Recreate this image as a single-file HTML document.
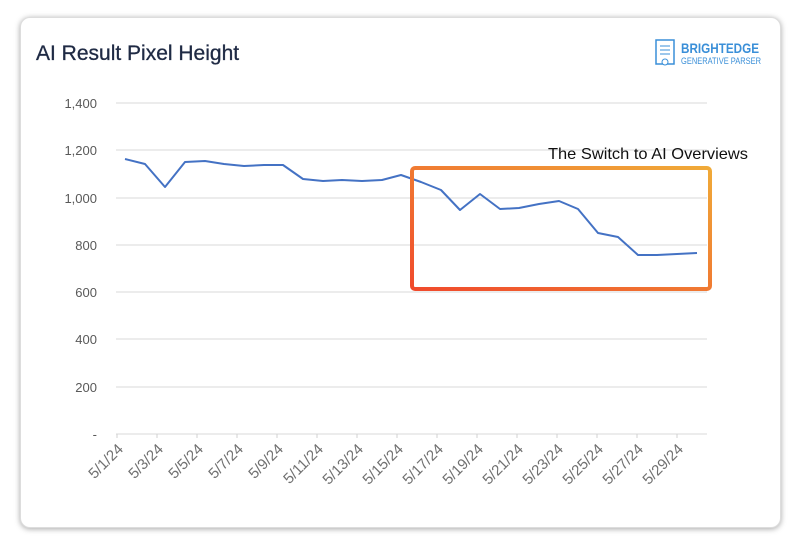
<!DOCTYPE html>
<html><head><style>
body{margin:0;background:#fff;width:800px;height:549px;overflow:hidden;font-family:"Liberation Sans",sans-serif}
.card{position:absolute;left:20px;top:17px;width:759px;height:509px;border-radius:10px;background:#fff;box-shadow:0 1px 6px rgba(0,0,0,.35);border:1px solid #ddd}
</style></head><body>
<div class="card"></div>
<svg width="800" height="549" style="position:absolute;left:0;top:0">
<defs><linearGradient id="g" x1="0" y1="1" x2="1" y2="0"><stop offset="0" stop-color="#f04a2c"/><stop offset="1" stop-color="#f0aa38"/></linearGradient></defs>
<text x="36" y="60" font-size="21" fill="#1f2a44" stroke="#1f2a44" stroke-width="0.3" font-family="Liberation Sans">AI Result Pixel Height</text>
<g>
<rect x="656" y="40" width="18" height="24" fill="none" stroke="#3a8fd8" stroke-width="1.5"/>
<line x1="660" y1="46" x2="670" y2="46" stroke="#3a8fd8"/><line x1="660" y1="50" x2="670" y2="50" stroke="#3a8fd8"/><line x1="660" y1="54" x2="670" y2="54" stroke="#3a8fd8"/>
<circle cx="665" cy="62" r="3" fill="#fff" stroke="#3a8fd8"/>
<text x="681" y="53" font-size="14" font-weight="bold" fill="#3a8fd8" textLength="78" lengthAdjust="spacingAndGlyphs">BRIGHTEDGE</text>
<text x="681" y="64" font-size="9" fill="#3a8fd8" textLength="80" lengthAdjust="spacingAndGlyphs">GENERATIVE PARSER</text>
</g>
<g stroke="#d9d9d9" stroke-width="1">
<line x1="116" y1="103" x2="707" y2="103"/><line x1="116" y1="150" x2="707" y2="150"/><line x1="116" y1="198" x2="707" y2="198"/><line x1="116" y1="245" x2="707" y2="245"/><line x1="116" y1="292" x2="707" y2="292"/><line x1="116" y1="339" x2="707" y2="339"/><line x1="116" y1="387" x2="707" y2="387"/><line x1="116" y1="434" x2="707" y2="434"/>
</g>
<g stroke="#d0d0d0"><path d="M117 434v4M157 434v4M197 434v4M237 434v4M277 434v4M317 434v4M357 434v4M397 434v4M437 434v4M477 434v4M517 434v4M557 434v4M597 434v4M637 434v4M677 434v4"/></g>
<g font-size="13" fill="#595959" text-anchor="end">
<text x="97" y="108">1,400</text><text x="97" y="155">1,200</text><text x="97" y="203">1,000</text><text x="97" y="250">800</text><text x="97" y="297">600</text><text x="97" y="344">400</text><text x="97" y="392">200</text><text x="97" y="439">-</text>
</g>
<g font-size="15" fill="#707070" text-anchor="end">
<text transform="translate(124,450) rotate(-45)">5/1/24</text>
<text transform="translate(164,450) rotate(-45)">5/3/24</text>
<text transform="translate(204,450) rotate(-45)">5/5/24</text>
<text transform="translate(244,450) rotate(-45)">5/7/24</text>
<text transform="translate(284,450) rotate(-45)">5/9/24</text>
<text transform="translate(324,450) rotate(-45)">5/11/24</text>
<text transform="translate(364,450) rotate(-45)">5/13/24</text>
<text transform="translate(404,450) rotate(-45)">5/15/24</text>
<text transform="translate(444,450) rotate(-45)">5/17/24</text>
<text transform="translate(484,450) rotate(-45)">5/19/24</text>
<text transform="translate(524,450) rotate(-45)">5/21/24</text>
<text transform="translate(564,450) rotate(-45)">5/23/24</text>
<text transform="translate(604,450) rotate(-45)">5/25/24</text>
<text transform="translate(644,450) rotate(-45)">5/27/24</text>
<text transform="translate(684,450) rotate(-45)">5/29/24</text>
</g>
<polyline fill="none" stroke="#4472c4" stroke-width="2" stroke-linejoin="round" points="125,159 145,164 165,187 185,162 205,161 224,164 244,166 264,165 283,165 303,179 323,181 342,180 362,181 382,180 401,175 421,182 441,190 460,210 480,194 500,209 519,208 539,204 559,201 578,209 598,233 618,237 638,255 657,255 677,254 697,253"/>
<rect x="412" y="168" width="298" height="121" rx="3" fill="none" stroke="url(#g)" stroke-width="4"/>
<text x="548" y="159" font-size="16" fill="#111" textLength="200" lengthAdjust="spacingAndGlyphs">The Switch to AI Overviews</text>
</svg>
</body></html>
